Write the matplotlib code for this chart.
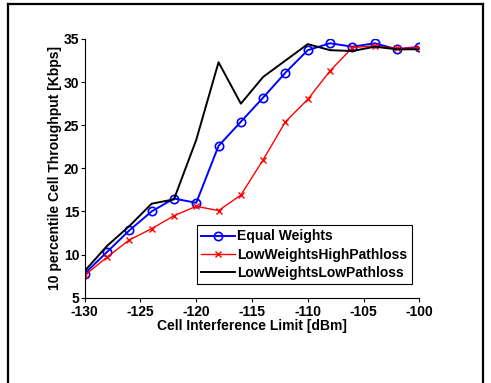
import matplotlib
matplotlib.use('Agg')
import matplotlib.pyplot as plt
from matplotlib.lines import Line2D

plt.rcParams['font.family'] = ['Liberation Sans', 'DejaVu Sans']
plt.rcParams['font.weight'] = 'bold'
plt.rcParams['axes.unicode_minus'] = False

# data
limits = [-130, -128, -126, -124, -122, -120, -118, -116, -114, -112, -110, -108, -106, -104, -102, -100]
equal_w = [7.8, 10.3, 12.8, 15.0, 16.5, 16.0, 22.6, 25.4, 28.2, 31.1, 33.7, 34.5, 34.1, 34.5, 33.8, 34.1]
low_high = [7.6, 9.7, 11.7, 13.0, 14.5, 15.6, 15.1, 16.9, 21.0, 25.4, 28.0, 31.3, 34.0, 34.2, 33.9, 34.0]
low_low = [8.1, 11.0, 13.3, 15.9, 16.4, 23.3, 32.3, 27.5, 30.6, 32.5, 34.4, 33.7, 33.6, 34.1, 33.8, 33.8]
xticks = [-130, -125, -120, -115, -110, -105, -100]
yticks = [5, 10, 15, 20, 25, 30, 35]

fig = plt.figure(figsize=(4.91, 3.83), dpi=100)
ax = fig.add_axes([0.1725, 0.2227, 0.6815, 0.6756])

ax.plot(limits, equal_w, color='blue', lw=1.4, marker='o', ms=6, mfc='none', mew=1.2, label='Equal Weights')
ax.plot(limits, low_high, color='red', lw=1.0, marker='x', ms=4, mew=1.0, label='LowWeightsHighPathloss')
ax.plot(limits, low_low, color='black', lw=1.4, label='LowWeightsLowPathloss')

ax.set_xlim(-130, -100)
ax.set_ylim(5, 35)
ax.set_xticks(xticks)
ax.set_yticks(yticks)
ax.spines['top'].set_visible(False)
ax.spines['right'].set_visible(False)
ax.tick_params(direction='out', length=3, labelsize=10, pad=1)
ax.tick_params(axis='x', pad=2.5)
for lab in ax.get_xticklabels() + ax.get_yticklabels():
    lab.set_fontweight('bold')

ax.set_xlabel('Cell Interference Limit [dBm]', fontsize=10, fontweight='bold', labelpad=0)
ax.set_ylabel('10 percentile Cell Throughput [Kbps]', fontsize=10, fontweight='bold', labelpad=1)

leg = ax.legend(loc='lower left', bbox_to_anchor=(0.336, 0.053), borderaxespad=0,
                fancybox=False, edgecolor='black', framealpha=1, fontsize=10,
                handlelength=2.4, handletextpad=0.2, borderpad=0.3, labelspacing=0.3)
leg.get_frame().set_linewidth(0.8)
for t in leg.get_texts():
    t.set_fontweight('bold')

# outer frame around the figure (no bottom edge)
fig.add_artist(Line2D([7.5/491, 7.5/491], [0, 1 - 4/383], transform=fig.transFigure, color='black', lw=1.6))
fig.add_artist(Line2D([7.5/491, 483/491], [1 - 4/383, 1 - 4/383], transform=fig.transFigure, color='black', lw=1.6))
fig.add_artist(Line2D([483/491, 483/491], [0, 1 - 4/383], transform=fig.transFigure, color='black', lw=1.6))

fig.savefig('out.png', dpi=100)
